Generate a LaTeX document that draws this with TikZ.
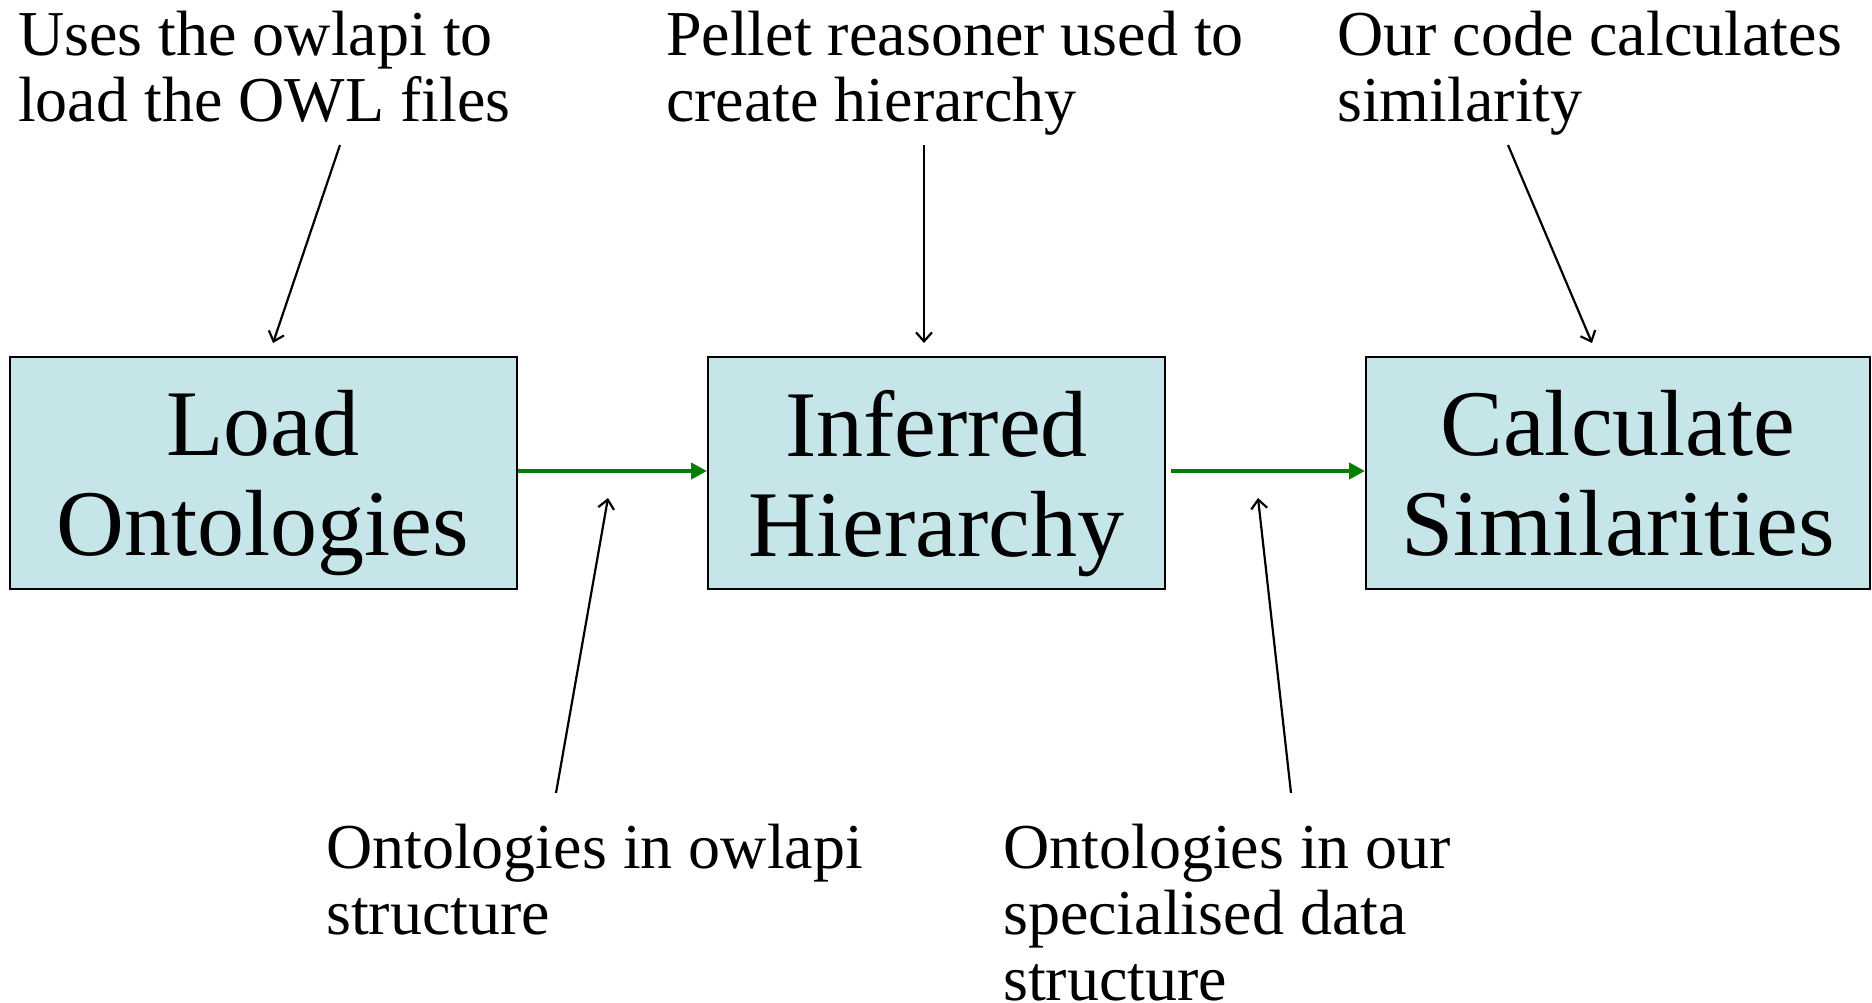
\documentclass[tikz,border=0pt]{standalone}
\usepackage{fontspec}
\setmainfont{Liberation Serif}
\usetikzlibrary{arrows.meta}
\definecolor{boxfill}{RGB}{198,229,232}
\definecolor{flowgreen}{RGB}{0,128,0}
\tikzset{
  stepbox/.style={draw=black, line width=2pt, fill=boxfill, inner sep=0pt,
    align=center, text depth=0pt, font=\fontsize{94}{100}\selectfont},
  note/.style={anchor=base west, inner sep=0pt, align=left,
    font=\fontsize{64}{66}\selectfont},
  flow/.style={draw=flowgreen, line width=4pt,
    -{Triangle[length=16pt,width=16pt]}},
  pointer/.style={draw=black, line width=2.2pt,
    -{Straight Barb[length=9pt,width=16pt,line width=2.2pt]}}
}
\begin{document}
\begin{tikzpicture}[x=1pt,y=-1pt]
\useasboundingbox (0,0) rectangle (1872,1003);

% process boxes
\node[stepbox, minimum width=507pt, minimum height=232pt] (load) at (263,473) {Load\\Ontologies};
\node[stepbox, minimum width=457pt, minimum height=232pt] (infer) at (936.5,473) {Inferred\\Hierarchy};
\node[stepbox, minimum width=504pt, minimum height=232pt] (calc) at (1618,473) {Calculate\\Similarities};

% flow between stages
\draw[flow] (load.east |- 0,471) -- (infer.west |- 0,471);
\coordinate (s2) at (1171,471);
\draw[flow] (s2) -- (calc.west |- 0,471);

% annotations (anchored at the baseline of their last line)
\node[note] (owl) at (18,122) {Uses the owlapi to\\load the OWL files};
\node[note] (pellet) at (666,122) {Pellet reasoner used to\\create hierarchy};
\node[note] (code) at (1337,122) {Our code calculates\\similarity};
\node[note] (owlstruct) at (326,934) {Ontologies in owlapi\\structure};
\node[note] (ourstruct) at (1003,1000) {Ontologies in our\\specialised data\\structure};

% pointer arrows
\coordinate (p1a) at (340,145);  \coordinate (p1b) at (273,343);
\coordinate (p2a) at (924,145);  \coordinate (p2b) at (924,343);
\coordinate (p3a) at (1508,145); \coordinate (p3b) at (1592,343);
\coordinate (p4a) at (556,793);  \coordinate (p4b) at (608,498);
\coordinate (p5a) at (1291,793); \coordinate (p5b) at (1258,498);
\draw[pointer] (p1a) -- (p1b);
\draw[pointer] (p2a) -- (p2b);
\draw[pointer] (p3a) -- (p3b);
\draw[pointer] (p4a) -- (p4b);
\draw[pointer] (p5a) -- (p5b);
\end{tikzpicture}
\end{document}
